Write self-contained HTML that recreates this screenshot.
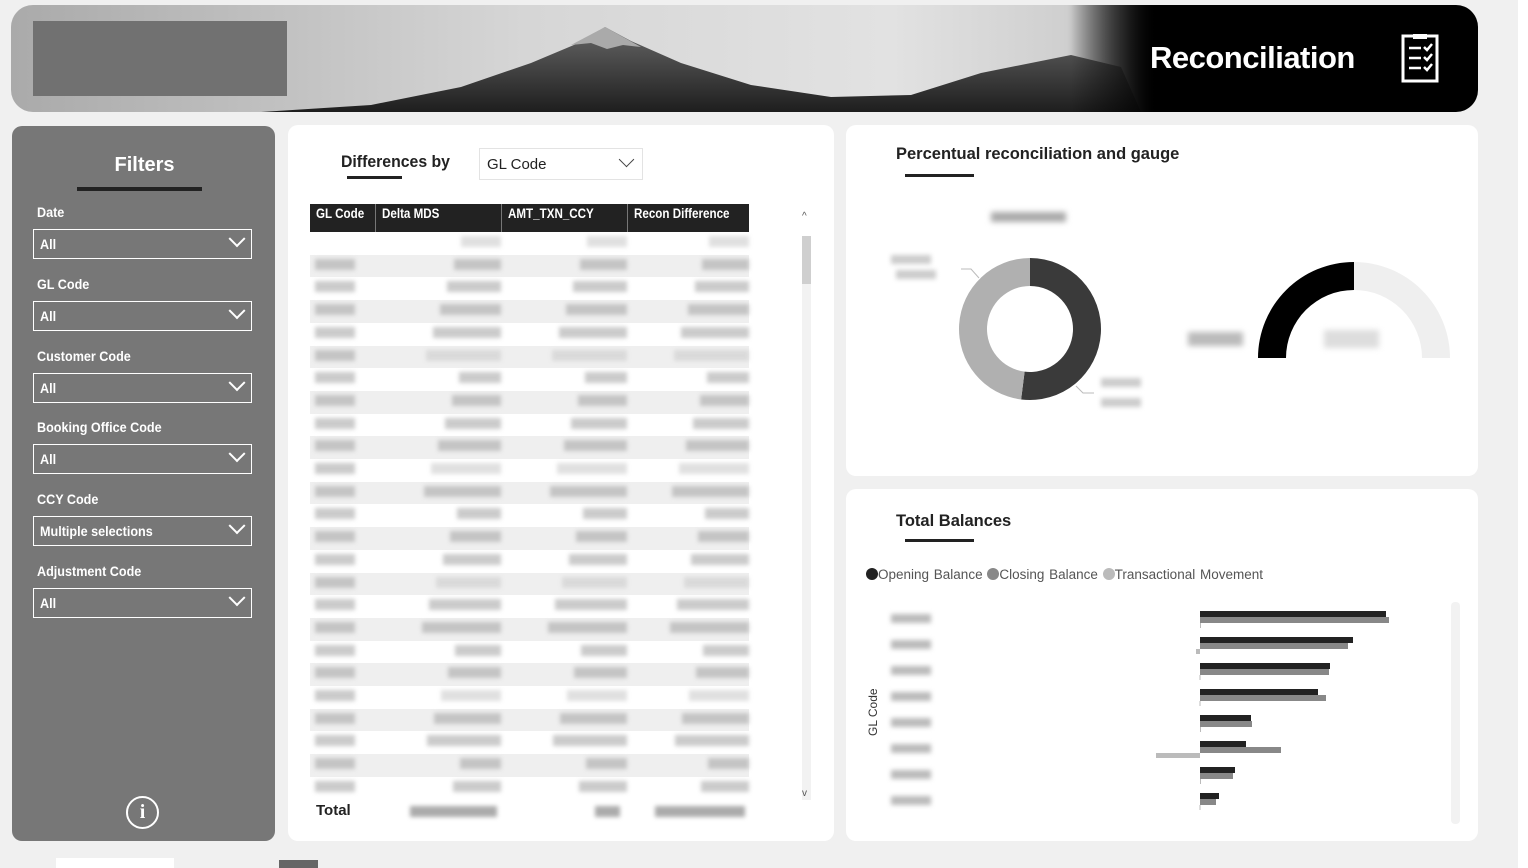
<!DOCTYPE html>
<html><head><meta charset="utf-8">
<style>
*{box-sizing:border-box;margin:0;padding:0}
body{width:1528px;height:868px;background:#f0f0f0;font-family:"Liberation Sans",sans-serif;position:relative;overflow:hidden}
.abs{position:absolute}
.card{position:absolute;background:#fff;border-radius:10px}
.flbl{position:absolute;left:37px;color:#fff;font-size:14px;font-weight:bold;transform:scaleX(.9);transform-origin:left}
.fbox{position:absolute;left:33px;width:219px;height:30px;border:1.5px solid #fff;color:#fff;font-size:14px;font-weight:bold;padding:6px 6px}
.fbox span{display:inline-block;transform:scaleX(.9);transform-origin:left}
.chev{position:absolute;right:8px;top:7px;width:12px;height:12px;border-right:2px solid #fff;border-bottom:2px solid #fff;transform:rotate(45deg) translate(-3px,-3px)}
.blur{filter:blur(2.2px);color:#888;font-size:11px}
</style></head><body>
<div class="abs" style="left:1518px;top:0;width:10px;height:868px;background:#fff"></div>
<!-- header -->
<div class="abs" style="left:11px;top:5px;width:1467px;height:107px;border-radius:22px;overflow:hidden;background:linear-gradient(90deg,#aaa 0%,#d6d6d6 35%,#e2e2e2 60%,#cfcfcf 72%,#555 76%,#000 78%,#000 100%)">
<svg width="1467" height="107" style="position:absolute;left:0;top:0">
<defs><linearGradient id="mg" x1="0" y1="0" x2="0" y2="1"><stop offset="0" stop-color="#666"/><stop offset="1" stop-color="#1e1e1e"/></linearGradient>
<linearGradient id="fade" x1="0" x2="1"><stop offset="0" stop-color="#000" stop-opacity="0"/><stop offset="1" stop-color="#000"/></linearGradient></defs>
<path d="M250,107 L360,100 L450,82 L520,58 L570,37 L594,22 L620,36 L670,58 L740,80 L820,92 L900,90 L970,68 L1010,60 L1060,50 L1110,62 L1130,107 Z" fill="url(#mg)"/>
<path d="M560,40 L594,22 L630,42 L612,40 L596,44 L580,38 Z" fill="#aaa"/>
<rect x="1060" y="0" width="90" height="107" fill="url(#fade)"/>
</svg>
<div class="abs" style="left:22px;top:16px;width:254px;height:75px;background:#717171"></div>
<div class="abs" style="left:1139px;top:35px;color:#fff;font-size:31px;font-weight:bold;letter-spacing:-0.5px">Reconciliation</div>
<svg class="abs" style="left:1390px;top:29px" width="40" height="50">
<rect x="2" y="2" width="34" height="45" fill="none" stroke="#fff" stroke-width="3"/>
<rect x="12" y="0" width="14" height="5" fill="#fff"/>
<g stroke="#fff" stroke-width="2.5" fill="none"><path d="M8 14h12M8 24h12M8 34h12M23 13l3 3 5-6M23 23l3 3 5-6M23 33l3 3 5-6"/></g>
</svg>
</div>
<!-- filters -->
<div class="abs" style="left:12px;top:126px;width:263px;height:715px;background:#777;border-radius:10px"></div>
<div class="abs" style="left:12px;top:154px;width:265px;text-align:center;color:#fff;font-size:20px;font-weight:bold">Filters</div>
<div class="abs" style="left:77px;top:187px;width:125px;height:4px;background:#222"></div>
<div class="flbl" style="top:204px">Date</div>
<div class="fbox" style="top:229px"><span>All</span><i class="chev"></i></div>
<div class="flbl" style="top:276px">GL Code</div>
<div class="fbox" style="top:301px"><span>All</span><i class="chev"></i></div>
<div class="flbl" style="top:348px">Customer Code</div>
<div class="fbox" style="top:373px"><span>All</span><i class="chev"></i></div>
<div class="flbl" style="top:419px">Booking Office Code</div>
<div class="fbox" style="top:444px"><span>All</span><i class="chev"></i></div>
<div class="flbl" style="top:491px">CCY Code</div>
<div class="fbox" style="top:516px"><span>Multiple selections</span><i class="chev"></i></div>
<div class="flbl" style="top:563px">Adjustment Code</div>
<div class="fbox" style="top:588px"><span>All</span><i class="chev"></i></div>
<div class="abs" style="left:126px;top:796px;width:33px;height:33px;border:2.5px solid #fff;border-radius:50%;color:#fff;font-size:20px;font-weight:bold;text-align:center;line-height:28px;font-family:'Liberation Serif',serif">i</div>
<!-- table card -->
<div class="card" style="left:288px;top:125px;width:546px;height:716px"></div>
<div class="abs" style="left:341px;top:152px;font-size:17px;font-weight:bold;color:#222;transform:scaleX(.93);transform-origin:left">Differences by</div>
<div class="abs" style="left:347px;top:176px;width:55px;height:3px;background:#222"></div>
<div class="abs" style="left:479px;top:148px;width:164px;height:32px;border:1px solid #e3e3e3;font-size:15px;padding:7px 7px;color:#222">GL Code<span style="position:absolute;right:10px;top:5px;width:11px;height:11px;border-right:1.5px solid #444;border-bottom:1.5px solid #444;transform:rotate(45deg)"></span></div>
<div id="table" class="abs" style="left:310px;top:204px;width:439px;height:620px"></div>
<div class="abs" style="left:802px;top:236px;width:9px;height:564px;background:#f2f2f2"><div style="width:9px;height:48px;background:#cfcfcf"></div></div>
<div class="abs" style="left:802px;top:211px;font-size:10px;color:#555">^</div>
<div class="abs" style="left:802px;top:788px;font-size:10px;color:#555">v</div>
<!-- gauge card -->
<div class="card" style="left:846px;top:125px;width:632px;height:351px"></div>
<div class="abs" style="left:896px;top:145px;font-size:16.5px;font-weight:bold;color:#222">Percentual reconciliation and gauge</div>
<div class="abs" style="left:905px;top:174px;width:69px;height:3px;background:#222"></div>
<svg class="abs" style="left:846px;top:190px" width="632" height="240" id="gsvg"></svg>
<!-- bar card -->
<div class="card" style="left:846px;top:489px;width:632px;height:352px"></div>
<div class="abs" style="left:896px;top:512px;font-size:16.5px;font-weight:bold;color:#222">Total Balances</div>
<div class="abs" style="left:905px;top:539px;width:69px;height:3px;background:#222"></div>
<div class="abs" style="left:866px;top:567px;font-size:13.5px;color:#555;white-space:nowrap;word-spacing:1px">
<span><i style="display:inline-block;width:12px;height:12px;border-radius:50%;background:#222;vertical-align:-1px"></i>Opening Balance</span>
<span><i style="display:inline-block;width:12px;height:12px;border-radius:50%;background:#888;vertical-align:-1px"></i>Closing Balance</span>
<span><i style="display:inline-block;width:12px;height:12px;border-radius:50%;background:#bbb;vertical-align:-1px"></i>Transactional Movement</span></div>
<svg class="abs" style="left:846px;top:595px" width="632" height="240" id="bsvg"></svg>
<div class="abs" style="left:1451px;top:602px;width:9px;height:222px;background:#f2f2f2;border-radius:4px"></div>
<div class="abs" style="left:56px;top:858px;width:118px;height:10px;background:#fff"></div>
<div class="abs" style="left:279px;top:860px;width:39px;height:8px;background:#666"></div>
<script>
const NS='http://www.w3.org/2000/svg';
function mk(t,a,p){const e=document.createElementNS(NS,t);for(const k in a)e.setAttribute(k,a[k]);p.appendChild(e);return e;}
// ---- table ----
const headers=['GL Code','Delta MDS','AMT_TXN_CCY','Recon Difference'];
const colW=[65,126,126,122];
const rowCount=25;
const tb=document.getElementById('table');
let x=0;
headers.forEach((h,i)=>{const d=document.createElement('div');


d.style.cssText=`position:absolute;left:${x}px;top:0;width:${colW[i]}px;height:28px;background:#222;color:#fff;font-size:13.5px;font-weight:bold;padding:2px 6px;white-space:nowrap;overflow:hidden;border-left:${i?'1px solid #777':'none'}`;
const s=document.createElement('span');s.style.cssText='display:inline-block;transform:scaleX(.86);transform-origin:left';s.textContent=h;d.appendChild(s);tb.appendChild(d);x+=colW[i];});
for(let r=0;r<rowCount;r++){const row=document.createElement('div');


row.style.cssText=`position:absolute;left:0;top:${28+r*22.7}px;width:439px;height:22.7px;background:${r%2?'#efefef':'#fff'}`;
let xx=0;colW.forEach((w,i)=>{const c=document.createElement('div');c.className='blur';
c.style.cssText=`position:absolute;left:${xx+(i?w-20-(r*7%40)-20:5)}px;top:4px;height:11px;width:${i?40+(r*7%40):40}px;background:${i&&r%5==0?'#ccc':'#a8a8a8'};opacity:.6;filter:blur(2px)`;
if(!(r==0&&i==0))row.appendChild(c);xx+=w;});
tb.appendChild(row);}
const tot=document.createElement('div');


tot.style.cssText='position:absolute;left:6px;top:598px;font-size:15px;font-weight:bold;color:#222';tot.textContent='Total';tb.appendChild(tot);
[[100,87],[285,25],[345,90]].forEach(([l,w])=>{const b=document.createElement('div');b.style.cssText=`position:absolute;left:${l}px;top:602px;width:${w}px;height:11px;background:#888;filter:blur(2px);opacity:.7`;tb.appendChild(b);});
// ---- donut & gauge ----
const donutValues=[52,48];
const donutColors=['#3a3a3a','#b0b0b0'];
const gaugeValue=50, gaugeMax=100;
const g=document.getElementById('gsvg');
function arc(cx,cy,r0,r1,a0,a1){const p=(r,a)=>[cx+r*Math.sin(a),cy-r*Math.cos(a)];
const L=(a1-a0)>Math.PI?1:0;const [x1,y1]=p(r1,a0),[x2,y2]=p(r1,a1),[x3,y3]=p(r0,a1),[x4,y4]=p(r0,a0);
return `M${x1},${y1}A${r1},${r1} 0 ${L} 1 ${x2},${y2}L${x3},${y3}A${r0},${r0} 0 ${L} 0 ${x4},${y4}Z`;}
const dsum=donutValues.reduce((a,b)=>a+b,0);let a=0;
donutValues.forEach((v,i)=>{const a1=a+v/dsum*2*Math.PI;
const s=mk('path',{d:arc(184,139,43,71,a,a1-0.0001),fill:donutColors[i]},g);

a=a1;});
mk('rect',{x:145,y:22,width:75,height:10,fill:'#aaa',style:'filter:blur(3px)'},g);
[[45,65],[50,80],[255,188],[255,208]].forEach(([xx,yy])=>mk('rect',{x:xx,y:yy,width:40,height:9,fill:'#ccc',style:'filter:blur(2.5px)'},g));
mk('path',{d:'M115,79 H125 L133,88',stroke:'#bbb',fill:'none'},g);
mk('path',{d:'M230,196 L237,203 H248',stroke:'#bbb',fill:'none'},g);
const gf=mk('path',{d:arc(508,168,68,96,-Math.PI/2,Math.PI/2),fill:'#efefef'},g);


const gv=mk('path',{d:arc(508,168,68,96,-Math.PI/2,-Math.PI/2+gaugeValue/gaugeMax*Math.PI),fill:'#000'},g);


mk('rect',{x:342,y:142,width:55,height:14,fill:'#bbb',style:'filter:blur(3px)'},g);
mk('rect',{x:478,y:140,width:55,height:18,fill:'#ddd',style:'filter:blur(3px)'},g);
// ---- bars ----
const glCodes=['A','B','C','D','E','F','G','H'];
const openingBal=[186,153,130,118,51,46,35,19];
const closingBal=[189,148,129,126,52,81,33,16];
const txnMove=[0.5,-4,-0.5,-0.5,0.5,-44,0.5,-0.5];
const b=document.getElementById('bsvg');
const x0=354, sx=v=>x0+v, rowY=i=>16+i*26;
mk('text',{x:0,y:0,'font-size':12,fill:'#333',transform:'translate(31,141) rotate(-90)'},b).textContent='GL Code';
glCodes.forEach((c,i)=>{
 mk('rect',{x:45,y:rowY(i)+3,width:40,height:9,fill:'#bbb',style:'filter:blur(2.5px)'},b);
 const sets=[[openingBal,'#222',0,6],[closingBal,'#888',6,6],[txnMove,'#bbb',12,5]];
 sets.forEach(([arr,col,off,h])=>{const v=arr[i];
  const r=mk('rect',{x:Math.min(sx(0),sx(v)),y:rowY(i)+off,width:Math.max(1,Math.abs(sx(v)-sx(0))),height:h,fill:col},b);
  
  });
});
</script>
</body></html>
